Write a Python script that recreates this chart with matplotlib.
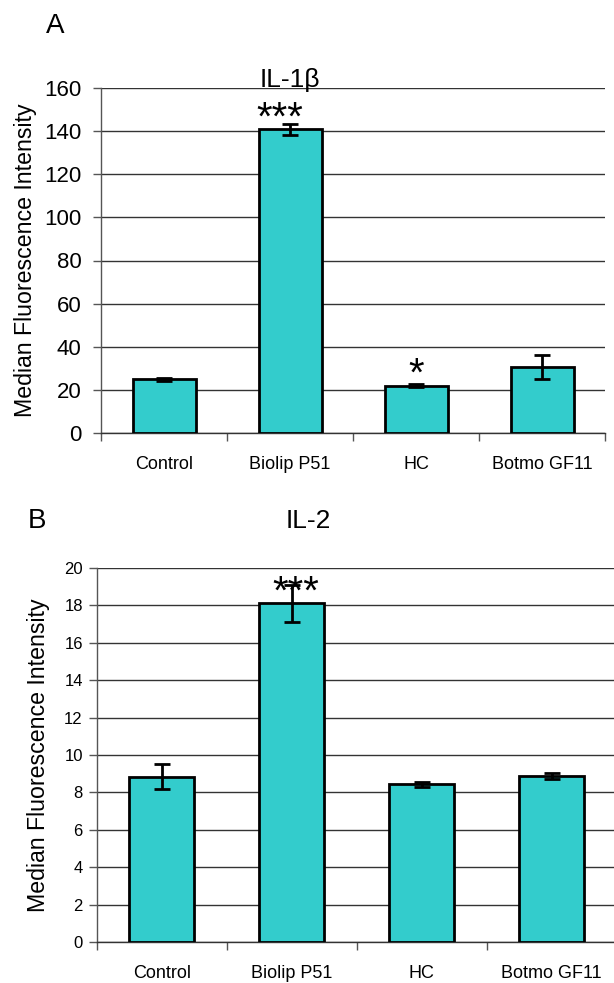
import matplotlib
matplotlib.use("Agg")
import matplotlib.pyplot as plt
import matplotlib.transforms as mtransforms
import numpy as np

plt.rcParams['font.family'] = ['Liberation Sans', 'DejaVu Sans']

categories = ["Control", "Biolip P51", "HC", "Botmo GF11"]

il1b_values = [25.0, 140.7, 22.1, 30.6]
il1b_errors = [0.8, 2.7, 0.8, 5.5]
il1b_stars = ["", "***", "*", ""]

il2_values = [8.83, 18.1, 8.43, 8.88]
il2_errors = [0.67, 1.0, 0.15, 0.18]
il2_stars = ["", "***", "", ""]

bar_color = "#33CCCC"
W, H = 614, 983
fig = plt.figure(figsize=(W / 100, H / 100), dpi=100)


def make_panel(rect, values, errors, stars, ymax, ystep, ytick_fs, title, letter,
               letter_xy, title_xy, ylabel_x, tick_pad, star_fs, star_dx):
    ax = fig.add_axes(rect)
    x = np.arange(len(categories))
    ax.bar(x, values, width=0.5, color=bar_color, edgecolor="black",
           linewidth=2.0, zorder=3)
    ax.errorbar(x, values, yerr=errors, fmt="none", ecolor="black",
                elinewidth=2.0, capsize=6, capthick=2.0, zorder=4)
    for xi, v, s in zip(x, values, stars):
        if s:
            ax.text(xi + (star_dx if len(s) > 1 else 0), v, s, ha="center",
                    va="baseline", fontsize=star_fs, zorder=5)
    ax.set_xlim(-0.5, len(categories) - 0.5)
    ax.set_ylim(0, ymax)
    ax.set_yticks(np.arange(0, ymax + ystep / 2, ystep))
    ax.set_xticks(x)
    ax.set_xticklabels(categories, fontsize=13)
    ax.set_xticks(np.arange(-0.5, len(categories)), minor=True)
    ax.tick_params(axis="x", which="major", length=0, pad=16)
    ax.tick_params(axis="x", which="minor", length=6, width=1, color="#555555",
                   direction="out")
    ax.tick_params(axis="y", length=6, width=1, color="#555555",
                   labelsize=ytick_fs, pad=tick_pad)
    ax.yaxis.grid(True, color="#333333", linewidth=1)
    ax.set_axisbelow(True)
    for sp in ["top", "right"]:
        ax.spines[sp].set_visible(False)
    ax.spines["left"].set_color("#555555")
    ax.spines["bottom"].set_color("#333333")
    ax.spines["left"].set_linewidth(1)
    ax.spines["bottom"].set_linewidth(1)
    ax.set_ylabel("Median Fluorescence Intensity", fontsize=16.7)
    trans = mtransforms.blended_transform_factory(fig.transFigure, ax.transAxes)
    ax.yaxis.set_label_coords(ylabel_x, 0.5, transform=trans)
    fig.text(letter_xy[0] / W, 1 - letter_xy[1] / H, letter, fontsize=20,
             ha="center", va="center")
    fig.text(title_xy[0] / W, 1 - title_xy[1] / H, title, fontsize=19,
             ha="center", va="center")
    return ax


make_panel([101 / W, 1 - 433.3 / H, 504 / W, 345.6 / H],
           il1b_values, il1b_errors, il1b_stars, 160, 20, 16,
           "IL-1β", "A", (55, 26), (290, 80), 37 / W, 8, 29, -0.08)

make_panel([96.7 / W, 1 - 942.3 / H, 520 / W, 374.6 / H],
           il2_values, il2_errors, il2_stars, 20, 2, 12,
           "IL-2", "B", (37, 521), (308, 521), 50 / W, 4, 29, 0.03)

fig.savefig("out.png", dpi=100)
